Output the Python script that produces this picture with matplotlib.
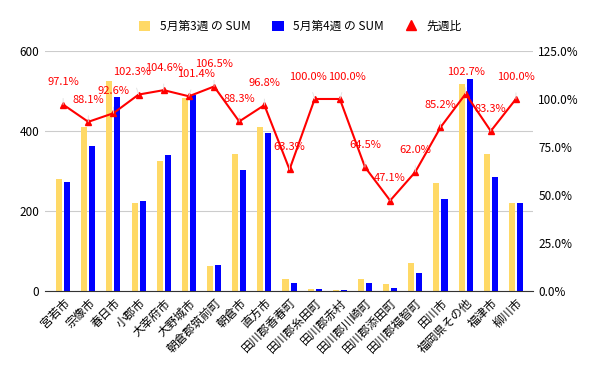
import matplotlib.pyplot as plt
import numpy as np

plt.rcParams['font.family'] = ['Noto Sans CJK JP', 'DejaVu Sans']

cities = ['宮若市', '宗像市', '春日市', '小郡市', '大宰府市', '大野城市', '朝倉郡筑前町',
          '朝倉市', '直方市', '田川郡香春町', '田川郡糸田町', '田川郡赤村', '田川郡川崎町',
          '田川郡添田町', '田川郡福智町', '田川市', '福岡県その他', '福津市', '柳川市']
week3 = [280, 411, 524, 219, 325, 482, 62, 342, 409, 30, 4, 2, 31, 17, 71, 270, 517, 342, 219]
week4 = [272, 362, 485, 224, 340, 489, 66, 302, 396, 19, 4, 2, 20, 8, 44, 230, 531, 285, 219]
ratio = [97.1, 88.1, 92.6, 102.3, 104.6, 101.4, 106.5, 88.3, 96.8, 63.3, 100.0, 100.0,
         64.5, 47.1, 62.0, 85.2, 102.7, 83.3, 100.0]

yellow = '#ffd966'
blue = '#0000ff'
red = '#ff0000'

fig = plt.figure(figsize=(6, 3.71), dpi=100)
ax = fig.add_axes([0.075, 0.2156, 0.813, 0.647])
x = np.arange(len(cities))

ax.bar(x - 0.16, week3, width=0.24, color=yellow, label='5月第3週 の SUM', zorder=2)
ax.bar(x + 0.16, week4, width=0.24, color=blue, label='5月第4週 の SUM', zorder=2)
ax.set_ylim(0, 600)
ax.set_yticks([0, 200, 400, 600])
ax.set_xlim(-0.72, 18.67)
ax.set_xticks(x)
ax.set_xticklabels(cities, rotation=45, ha='right', rotation_mode='anchor', fontsize=8.5)
ax.grid(axis='y', color='#cccccc', linewidth=0.8, zorder=0)
for s in ['top', 'right', 'left']:
    ax.spines[s].set_visible(False)
ax.spines['bottom'].set_color('#333333')
ax.tick_params(axis='both', length=0, labelsize=8.5, pad=4)

ax2 = ax.twinx()
ax2.plot(x, ratio, color=red, linewidth=1.5, marker='^', markersize=4, label='先週比', zorder=3)
ax2.set_ylim(0, 125)
ax2.set_yticks([0, 25, 50, 75, 100, 125])
ax2.set_yticklabels(['%.1f%%' % v for v in [0, 25, 50, 75, 100, 125]])
for s in ['top', 'right', 'left', 'bottom']:
    ax2.spines[s].set_visible(False)
ax2.tick_params(axis='y', length=0, labelsize=8.5, pad=4)

# small sideways nudges where neighbouring labels would collide
nudge = {3: -5, 5: 5, 10: -5, 11: 5}
for i, (xi, r) in enumerate(zip(x, ratio)):
    ax2.annotate('%.1f%%' % r, (xi, r), xytext=(nudge.get(i, 0), 16), textcoords='offset points',
                 ha='center', va='center', color=red, fontsize=8,
                 arrowprops=dict(arrowstyle='-', color='#e0e0e0', lw=0.6, shrinkA=6, shrinkB=0))

h1, l1 = ax.get_legend_handles_labels()
h2, l2 = ax2.get_legend_handles_labels()
handles = h1 + [plt.Line2D([], [], color=red, marker='^', linestyle='none', markersize=7)]
fig.legend(handles, l1 + l2, loc='upper center', bbox_to_anchor=(0.5, 0.975), ncol=3,
           frameon=False, fontsize=8.5, handlelength=1.0, handleheight=1.0, columnspacing=1.8)

fig.savefig('out.png', dpi=100)
